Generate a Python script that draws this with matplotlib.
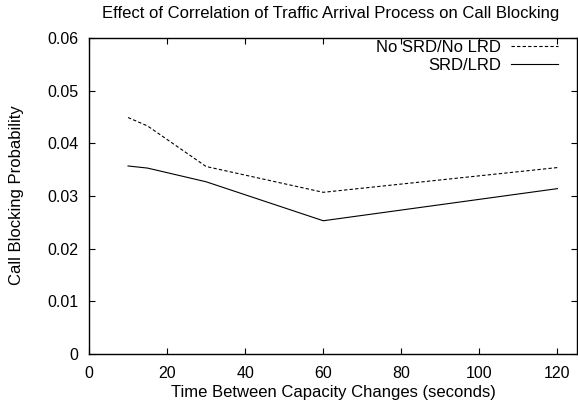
import matplotlib
matplotlib.use("Agg")
import matplotlib.pyplot as plt

plt.rcParams['font.family'] = ['Liberation Sans', 'DejaVu Sans']

x = [10, 15, 30, 60, 120]
no_srd = [0.0449, 0.0433, 0.0356, 0.0307, 0.0354]
srd = [0.0357, 0.0353, 0.0327, 0.0253, 0.0314]
xticks = [0, 20, 40, 60, 80, 100, 120]
yticks = [0, 0.01, 0.02, 0.03, 0.04, 0.05, 0.06]
ytick_labels = ['0', '0.01', '0.02', '0.03', '0.04', '0.05', '0.06']

fs = 12
fig = plt.figure(figsize=(5.78, 4.04), dpi=100)
ax = fig.add_axes([89/578, 1-354/404, (577-89)/578, (354-38)/404])
ax.plot(x, no_srd, color='black', lw=0.8, ls=(0, (3, 2)), label='No SRD/No LRD')
ax.plot(x, srd, color='black', lw=0.8, ls='-', label='SRD/LRD')
ax.set_xlim(0, 125)
ax.set_ylim(0, 0.06)
ax.set_xticks(xticks)
ax.set_yticks(yticks)
ax.set_yticklabels(ytick_labels)
ax.tick_params(direction='in', top=True, right=True, length=4, labelsize=11.5)
ax.tick_params(axis='x', pad=9)
ax.tick_params(axis='y', pad=7.5)
for s in ax.spines.values():
    s.set_linewidth(1.0)
fig.text(331/578, 1-13.5/404, 'Effect of Correlation of Traffic Arrival Process on Call Blocking',
         fontsize=fs, ha='center', va='center')
fig.text(333/578, 1-393/404, 'Time Between Capacity Changes (seconds)',
         fontsize=fs, ha='center', va='center')
fig.text(17/578, 1-195/404, 'Call Blocking Probability',
         fontsize=fs, ha='center', va='center', rotation=90)
ax.legend(loc='upper right', bbox_to_anchor=((558-89)/488, 1.0 - 1.5/316), frameon=False,
          markerfirst=False, fontsize=fs, handlelength=2.8, borderaxespad=0,
          borderpad=0, labelspacing=0.2, handletextpad=0.6)
fig.savefig('out.png', dpi=100)
